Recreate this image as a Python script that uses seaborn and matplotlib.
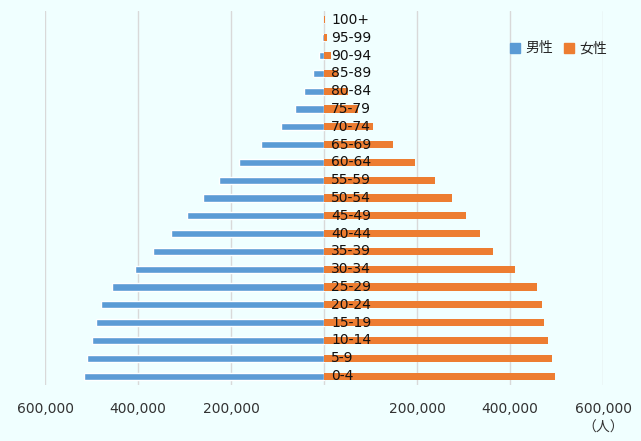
import numpy as np
import pandas as pd
import seaborn as sns
import matplotlib.pyplot as plt
from matplotlib.ticker import FuncFormatter
from matplotlib.lines import Line2D

sns.set_style('white')
plt.rcParams['font.family'] = ['DejaVu Sans', 'Noto Sans CJK JP']

# age groups, bottom to top
ages = ['0-4', '5-9', '10-14', '15-19', '20-24', '25-29', '30-34', '35-39',
        '40-44', '45-49', '50-54', '55-59', '60-64', '65-69', '70-74',
        '75-79', '80-84', '85-89', '90-94', '95-99', '100+']
male = [516000, 509600, 498900, 490300, 479500, 455900, 406400, 367700,
        329000, 294600, 260200, 225800, 182800, 135500, 92500,
        62400, 43000, 23700, 10750, 4300, 1000]
female = [496700, 490000, 481700, 473000, 468700, 458000, 410700, 363400,
          335000, 305000, 275000, 238700, 195700, 148400, 105400,
          73100, 51600, 30100, 15000, 6450, 1500]

df = pd.DataFrame({'age': ages, 'male': male, 'female': female})
df['pos'] = np.arange(len(df))

blue = '#5B9BD5'
orange = '#ED7D31'
bg = '#F0FFFF'

fig = plt.figure(figsize=(6.41, 4.41), dpi=100, facecolor=bg)
ax = fig.add_axes([45 / 641, 1 - 385 / 441, 558 / 641, 374 / 441])
ax.set_facecolor(bg)

ax.barh(df['pos'], -df['male'], height=0.4, color=blue, zorder=3)
ax.barh(df['pos'], df['female'], height=0.4, color=orange, linewidth=0, zorder=3)

for _, row in df.iterrows():
    ax.text(15000, row['pos'], row['age'], va='center', ha='left',
            fontsize=10, color='#111111', zorder=4)

ax.set_xlim(-600000, 600000)
ax.set_ylim(-0.5, len(df) - 0.5)
ax.set_xticks(np.arange(-600000, 600001, 200000))
ax.xaxis.set_major_formatter(FuncFormatter(lambda v, p: '' if v == 0 else f'{abs(int(v)):,}'))
ax.set_yticks([])
ax.tick_params(axis='x', length=0, pad=12, labelsize=10, labelcolor='#333333')
ax.grid(axis='x', color='#D9D9D9', linewidth=1, zorder=0)
for s in ax.spines.values():
    s.set_visible(False)

ax.text(1.0, -0.115, '（人）', transform=ax.transAxes, ha='center', va='center',
        fontsize=10, color='#333333', family=['Noto Sans CJK JP', 'DejaVu Sans'])

handles = [Line2D([], [], marker='s', linestyle='', color=blue, markersize=7),
           Line2D([], [], marker='s', linestyle='', color=orange, markersize=7)]
leg = ax.legend(handles, ['男性', '女性'], loc='center', bbox_to_anchor=(0.92, 0.9),
                ncol=2, frameon=False, handlelength=0.8, handletextpad=0.3,
                columnspacing=0.8, prop={'family': ['Noto Sans CJK JP'], 'size': 10})

fig.savefig('out.png', dpi=100, facecolor=bg)
